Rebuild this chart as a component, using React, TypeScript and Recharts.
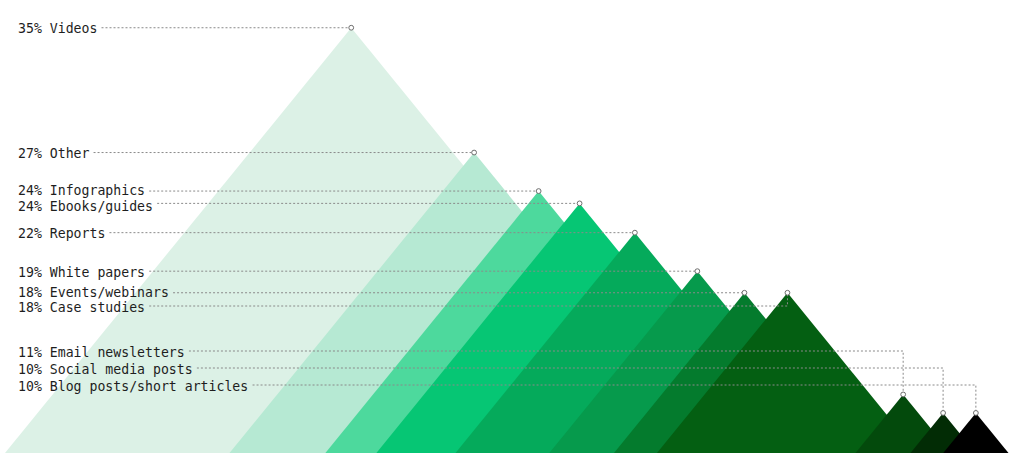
import React from 'react';
import { ComposedChart, Area, Scatter, XAxis, YAxis } from 'recharts';

// content formats, tallest peak first
const categories = [
  'Videos',
  'Other',
  'Infographics',
  'Ebooks/guides',
  'Reports',
  'White papers',
  'Events/webinars',
  'Case studies',
  'Email newsletters',
  'Social media posts',
  'Blog posts/short articles',
];
// share of respondents (%), read from peak heights
const shares = [35, 26.9, 24.4, 23.6, 21.7, 19.2, 17.8, 17.8, 11.2, 10, 10];
// horizontal position of each peak (0-100 scale)
const peakPositions = [34.3, 46.3, 52.6, 56.6, 62.0, 68.1, 72.7, 76.9, 88.2, 92.1, 95.3];
const shadeColors = [
  '#dcf1e6', '#b6e9d3', '#4dd99d', '#06c674', '#05aa5b', '#069a4c',
  '#047b2d', '#045f12', '#034a0c', '#022c05', '#000000',
];

const FLOOR = 7.4; // value at the ground line
const CEIL = 36.8;
const SPREAD = 1.225; // x units of half-width per % above floor

// label rows (px) for the text column on the left
const labelRows = [28, 153, 190, 206, 233, 272, 292, 307, 352, 369, 386];
const TEXT_X = 18;
const CHAR_W = 7.95;

const peaks = shares.map((v, i) => {
  const w = (v - FLOOR) * SPREAD;
  return [
    { x: peakPositions[i] - w, y: FLOOR },
    { x: peakPositions[i], y: v },
    { x: peakPositions[i] + w, y: FLOOR },
  ];
});

const apexes = shares.map((v, i) => ({ x: peakPositions[i], y: v, idx: i }));

const ApexLabel = (props: any) => {
  const { cx, cy, payload } = props;
  const i = payload.idx;
  const text = `${Math.round(shares[i])}% ${categories[i]}`;
  const row = labelRows[i];
  const startX = TEXT_X + text.length * CHAR_W + 4;
  const elbow = Math.abs(row - cy) > 6;
  const lineY = elbow ? row - 1 : cy;
  const dash = { stroke: '#8a8a8a', strokeWidth: 1, strokeDasharray: '2 2', fill: 'none' };
  return (
    <g>
      <text
        x={TEXT_X}
        y={row}
        dominantBaseline="central"
        fontFamily="'DejaVu Sans Mono', monospace"
        fontSize={13.2}
        fill="#1e1e1e"
      >
        {text}
      </text>
      {elbow ? (
        <polyline points={`${startX},${lineY} ${cx},${lineY} ${cx},${cy}`} {...dash} />
      ) : (
        <line x1={startX} y1={cy} x2={cx} y2={cy} {...dash} />
      )}
      <circle cx={cx} cy={cy} r={2.4} fill="#fff" stroke="#6e6e6e" strokeWidth={1} />
    </g>
  );
};

export default function App() {
  return (
    <div style={{ position: 'absolute', left: 0, top: 0, width: 1024, height: 459, background: '#fff' }}>
      <ComposedChart width={1024} height={459} margin={{ top: 0, right: 0, bottom: 6, left: 0 }}>
        <XAxis type="number" dataKey="x" domain={[0, 100]} hide allowDataOverflow />
        <YAxis type="number" dataKey="y" domain={[FLOOR, CEIL]} hide allowDataOverflow />
        {peaks.map((d, i) => (
          <Area
            key={categories[i]}
            data={d}
            dataKey="y"
            type="linear"
            stroke="none"
            fill={shadeColors[i]}
            fillOpacity={1}
            baseValue={FLOOR}
            dot={false}
            activeDot={false}
            isAnimationActive={false}
          />
        ))}
        <Scatter data={apexes} dataKey="y" shape={<ApexLabel />} isAnimationActive={false} />
      </ComposedChart>
    </div>
  );
}
